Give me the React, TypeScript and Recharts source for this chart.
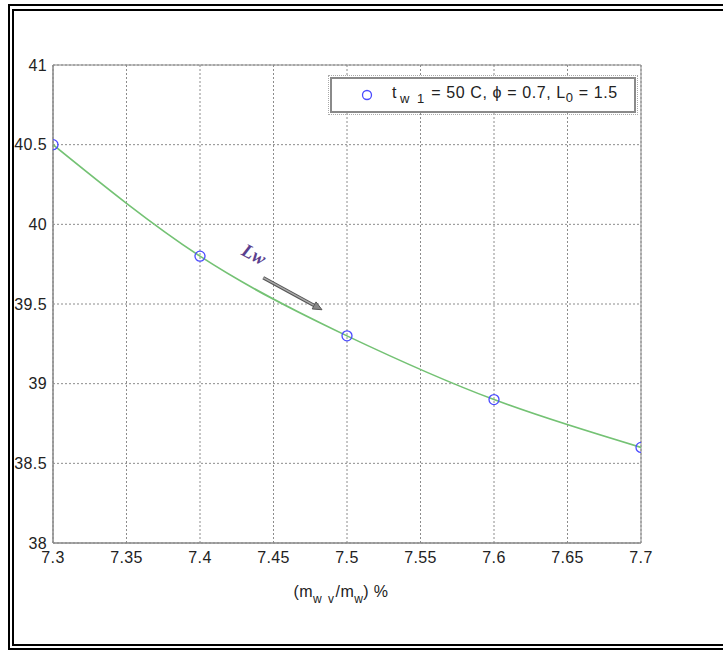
import React from "react";
import {
  ComposedChart,
  Line,
  Scatter,
  XAxis,
  YAxis,
  CartesianGrid,
  ReferenceArea,
  ReferenceLine,
  ReferenceDot,
  Legend,
} from "recharts";

const massRatio = [7.3, 7.4, 7.5, 7.6, 7.7];
const outletTemp = [40.5, 39.8, 39.3, 38.9, 38.6];
const xTicks = [7.3, 7.35, 7.4, 7.45, 7.5, 7.55, 7.6, 7.65, 7.7];
const yTicks = [38, 38.5, 39, 39.5, 40, 40.5, 41];
const arrowFrom = { x: 7.443, y: 39.665 };
const arrowTo = { x: 7.483, y: 39.464 };
const arrowLabelAt = { x: 7.436, y: 39.8 };

const data = massRatio.map((x, i) => ({ x, y: outletTemp[i] }));

const FONT = "'Liberation Sans', Arial, Helvetica, sans-serif";
const TXT = "#222";

const fmt = (v: number) => String(v);

const XLabel = (props: any) => {
  const vb = props.viewBox || {};
  const cx = vb.x + vb.width / 2 - 6;
  const y = 597;
  return (
    <text x={cx} y={y} textAnchor="middle" fontFamily={FONT} fontSize={16} fill={TXT} letterSpacing={0.4}>
      <tspan>(m</tspan>
      <tspan fontSize={12} dy={6} letterSpacing={1.5}>w v</tspan>
      <tspan dy={-6}>/m</tspan>
      <tspan fontSize={12} dy={6}>w</tspan>
      <tspan dy={-6}>) %</tspan>
    </text>
  );
};

const LegendBox = () => (
  <div
    style={{
      width: 306,
      height: 36,
      border: "2px solid #8a8a8a",
      outline: "1px dotted #aaa",
      outlineOffset: 1,
      background: "#fff",
      boxSizing: "border-box",
      display: "flex",
      alignItems: "center",
      fontFamily: FONT,
      fontSize: 16,
      letterSpacing: 0.6,
      color: TXT,
      whiteSpace: "nowrap",
    }}
  >
    <svg width={58} height={20} style={{ flex: "none" }}>
      <circle cx={35} cy={10} r={4.5} fill="none" stroke="#4a4aff" strokeWidth={1.3} />
    </svg>
    <span style={{ marginLeft: 2 }}>
      t
      <sub style={{ fontSize: 13, letterSpacing: 2, marginLeft: 3 }}>w 1</sub> = 50 C, ϕ = 0.7, L
      <sub style={{ fontSize: 13 }}>0</sub> = 1.5
    </span>
  </div>
);

const ArrowShape = (props: any) => {
  const { x1, y1, x2, y2 } = props;
  if ([x1, y1, x2, y2].some((v) => typeof v !== "number")) return null;
  const ang = Math.atan2(y2 - y1, x2 - x1);
  const hl = 9;
  const hw = 4;
  const bx = x2 - hl * Math.cos(ang);
  const by = y2 - hl * Math.sin(ang);
  const px = -Math.sin(ang) * hw;
  const py = Math.cos(ang) * hw;
  return (
    <g>
      <line x1={x1} y1={y1} x2={bx} y2={by} stroke="#555" strokeWidth={3.5} />
      <line x1={x1} y1={y1} x2={bx} y2={by} stroke="#aaa" strokeWidth={1.5} />
      <polygon
        points={`${x2},${y2} ${bx + px},${by + py} ${bx - px},${by - py}`}
        fill="#888"
        stroke="#555"
        strokeWidth={1}
      />
    </g>
  );
};

const LwLabel = (props: any) => {
  const { cx, cy } = props;
  if (typeof cx !== "number") return null;
  return (
    <text
      x={cx}
      y={cy}
      transform={`rotate(28 ${cx} ${cy})`}
      textAnchor="middle"
      dominantBaseline="middle"
      fontFamily="'Liberation Serif', 'DejaVu Serif', serif"
      fontStyle="italic"
      fontWeight="bold"
      fontSize={19}
      fill="#5b3f8e"
    >
      Lw
    </text>
  );
};

export default function App() {
  return (
    <div
      style={{
        position: "absolute",
        left: 0,
        top: 0,
        width: 723,
        height: 652,
        overflow: "hidden",
        background: "#fff",
      }}
    >
      <div
        style={{
          position: "absolute",
          left: 8,
          top: 4,
          width: 800,
          height: 646,
          border: "2px solid #000",
          boxSizing: "border-box",
        }}
      />
      <div
        style={{
          position: "absolute",
          left: 12,
          top: 9,
          width: 800,
          height: 637,
          border: "2px solid #000",
          boxSizing: "border-box",
        }}
      />
      <div style={{ position: "absolute", left: 0, top: 0 }}>
        <ComposedChart
          width={723}
          height={652}
          data={data}
          margin={{ top: 65, right: 82, left: 0, bottom: 79 }}
        >
          <CartesianGrid
            stroke="#8c8c8c"
            strokeDasharray="2 2"
            horizontalValues={yTicks}
            verticalValues={xTicks}
          />
          <XAxis
            dataKey="x"
            type="number"
            domain={[7.3, 7.7]}
            ticks={xTicks}
            tickFormatter={fmt}
            height={30}
            tickSize={0}
            tickMargin={9}
            axisLine={{ stroke: "#888" }}
            tick={{ fontFamily: FONT, fontSize: 16, fill: TXT, letterSpacing: 0.4 }}
            interval={0}
            allowDataOverflow
            label={{ content: (p: any) => <XLabel {...p} /> }}
          />
          <YAxis
            dataKey="y"
            type="number"
            domain={[38, 41]}
            ticks={yTicks}
            tickFormatter={fmt}
            width={53}
            tickSize={0}
            tickMargin={6}
            axisLine={{ stroke: "#888" }}
            tick={{ fontFamily: FONT, fontSize: 16, fill: TXT, letterSpacing: 0.4 }}
            interval={0}
            allowDataOverflow
          />
          <ReferenceArea
            x1={7.3}
            x2={7.7}
            y1={38}
            y2={41}
            fill="none"
            fillOpacity={0}
            stroke="#888"
            strokeWidth={1}
          />
          <Line
            type="natural"
            dataKey="y"
            stroke="#74c274"
            strokeWidth={1.6}
            dot={false}
            activeDot={false}
            isAnimationActive={false}
            legendType="none"
          />
          <Scatter
            dataKey="y"
            fill="none"
            stroke="#4a4aff"
            strokeWidth={1.3}
            shape={(p: any) => (
              <circle cx={p.cx} cy={p.cy} r={5} fill="none" stroke="#4a4aff" strokeWidth={1.3} />
            )}
            isAnimationActive={false}
          />
          <ReferenceLine
            segment={[arrowFrom, arrowTo]}
            stroke="#666"
            shape={(p: any) => <ArrowShape {...p} />}
          />
          <ReferenceDot
            x={arrowLabelAt.x}
            y={arrowLabelAt.y}
            r={0}
            shape={(p: any) => <LwLabel {...p} />}
          />
          <Legend
            layout="horizontal"
            verticalAlign="middle"
            align="center"
            wrapperStyle={{ position: "absolute", left: 330, top: 77, width: 306, height: 36 }}
            content={() => <LegendBox />}
          />
        </ComposedChart>
      </div>
    </div>
  );
}
